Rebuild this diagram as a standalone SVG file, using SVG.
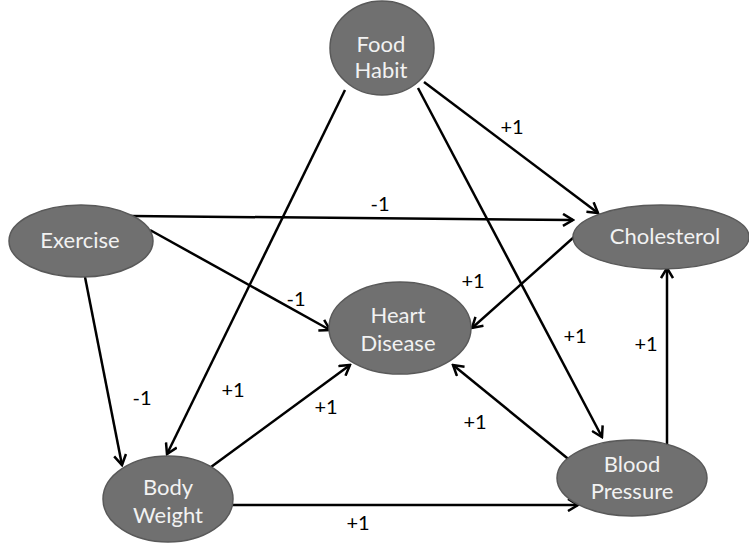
<svg xmlns="http://www.w3.org/2000/svg" width="749" height="546" viewBox="0 0 749 546">
<style>
.node ellipse{fill:#707070;stroke:#595959;stroke-width:1.5}
.node text{font-family:Lato,"Open Sans","Liberation Sans",sans-serif;font-size:22px;fill:#f2f2f2;text-anchor:middle}
.edges line{stroke:#000;stroke-width:2.5;marker-end:url(#arr)}
.lbl{font-family:Lato,"Open Sans","Liberation Sans",sans-serif;font-size:20px;fill:#000;text-anchor:middle}
</style>
<defs>
<marker id="arr" viewBox="0 0 14 14" markerWidth="14" markerHeight="14" refX="12" refY="7" orient="auto" markerUnits="userSpaceOnUse">
<path d="M2,1 L12,7 L2,13" fill="none" stroke="#000" stroke-width="2.5"/>
</marker>
</defs>
<rect width="749" height="546" fill="#fff"/>
<g class="edges">
<line x1="345" y1="90" x2="167" y2="454"/>
<line x1="424" y1="82" x2="598" y2="213"/>
<line x1="418" y1="88" x2="602" y2="437"/>
<line x1="131" y1="216" x2="573" y2="220"/>
<line x1="150" y1="230" x2="330" y2="330"/>
<line x1="85" y1="277" x2="122" y2="465"/>
<line x1="583" y1="229" x2="472" y2="328"/>
<line x1="211" y1="467" x2="350" y2="365"/>
<line x1="231" y1="505" x2="578" y2="505"/>
<line x1="572" y1="462" x2="453" y2="365"/>
<line x1="667" y1="446" x2="667" y2="268"/>
</g>
<g class="labels">
<text class="lbl" x="512" y="134">+1</text>
<text class="lbl" x="380" y="211">-1</text>
<text class="lbl" x="473" y="288">+1</text>
<text class="lbl" x="296" y="306">-1</text>
<text class="lbl" x="575" y="343">+1</text>
<text class="lbl" x="646" y="351">+1</text>
<text class="lbl" x="142" y="405">-1</text>
<text class="lbl" x="233" y="397">+1</text>
<text class="lbl" x="326" y="414">+1</text>
<text class="lbl" x="475" y="429">+1</text>
<text class="lbl" x="358" y="530">+1</text>
</g>
<g id="food-habit" class="node"><ellipse cx="382" cy="48" rx="52" ry="47"/><text x="381" y="52">Food</text><text x="381" y="78">Habit</text></g>
<g id="exercise" class="node"><ellipse cx="81" cy="241" rx="72" ry="36"/><text x="80" y="248">Exercise</text></g>
<g id="cholesterol" class="node"><ellipse cx="661" cy="237" rx="88" ry="32"/><text x="665" y="244">Cholesterol</text></g>
<g id="heart-disease" class="node"><ellipse cx="400" cy="328" rx="71" ry="46"/><text x="398" y="323">Heart</text><text x="398" y="351">Disease</text></g>
<g id="body-weight" class="node"><ellipse cx="168" cy="499" rx="65" ry="43"/><text x="168" y="495">Body</text><text x="168" y="523">Weight</text></g>
<g id="blood-pressure" class="node"><ellipse cx="632" cy="478" rx="75" ry="38"/><text x="632" y="472">Blood</text><text x="632" y="499">Pressure</text></g>
</svg>
